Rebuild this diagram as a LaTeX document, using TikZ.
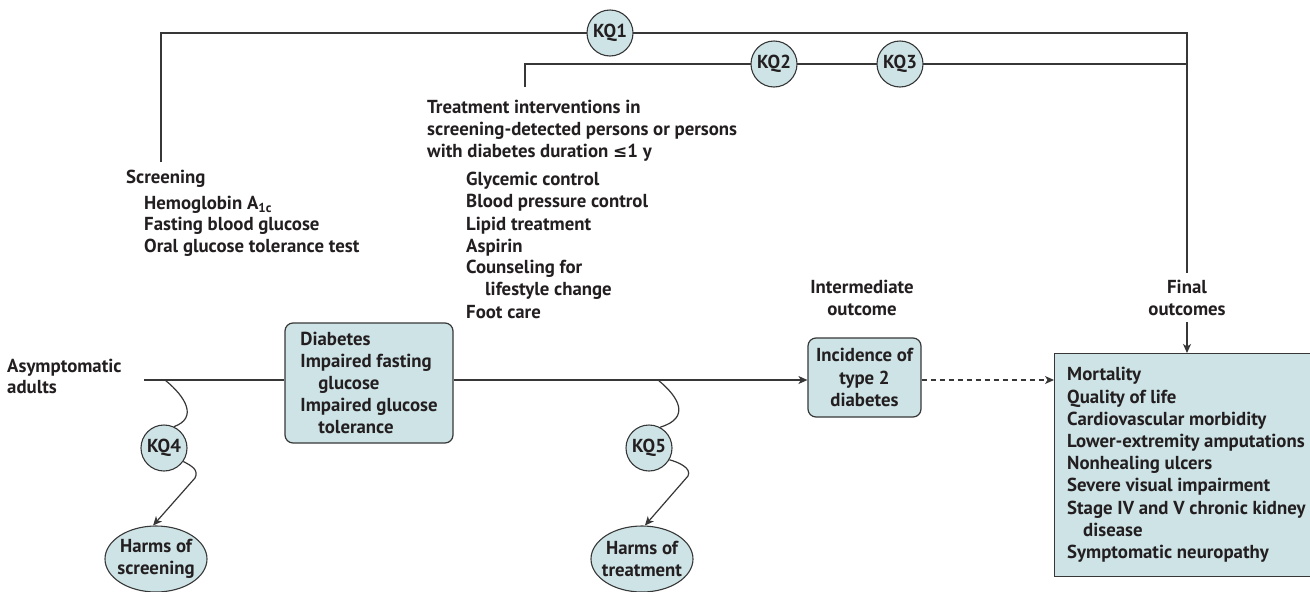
\documentclass[tikz,border=0pt]{standalone}
\usepackage{fontspec}
\setmainfont{PT Sans}
\newfontfamily\symf{DejaVu Sans}
\usetikzlibrary{arrows.meta,shapes.geometric}
\definecolor{boxfill}{RGB}{205,227,230}
\definecolor{ink}{RGB}{35,31,32}
\definecolor{linec}{RGB}{55,55,55}
\newcommand{\mainfs}{\fontsize{18.8}{22.2}\selectfont\bfseries}
\begin{document}
\begin{tikzpicture}[x=1pt,y=-1pt,
  every node/.style={font=\mainfs, text=ink},
  conn/.style={draw=linec, line width=1.2pt},
  arr/.style={conn, -{Stealth[length=9pt,width=8pt,inset=2.5pt]}},
  kq/.style={circle, draw=linec, line width=1.1pt, fill=boxfill, minimum size=46pt, inner sep=0pt},
  harm/.style={ellipse, draw=linec, line width=1.1pt, fill=boxfill, minimum width=102pt, minimum height=66pt, inner sep=0pt},
  rbox/.style={draw=linec, line width=1.2pt, fill=boxfill, rounded corners=8pt},
  lbl/.style={anchor=base west, inner sep=0pt},
  clbl/.style={anchor=base, inner sep=0pt}
]
\useasboundingbox (0,0) rectangle (1310,592);
\clip (0,0) rectangle (1310,592);
\fill[white] (0,0) rectangle (1310,592);

% top connectors
\coordinate (s1) at (161,162);
\coordinate (c1) at (161,33);
\coordinate (c2) at (1187,33);
\coordinate (f1) at (1187,273);
\draw[conn] (s1) -- (c1) -- (c2) -- (f1);
\coordinate (t1) at (525,87);
\coordinate (t2) at (525,64);
\coordinate (t3) at (1187,64);
\draw[conn] (t1) -- (t2) -- (t3);
\node[kq] (KQ1) at (610,33) {KQ1};
\node[kq] (KQ2) at (774,64) {KQ2};
\node[kq] (KQ3) at (900,64) {KQ3};

% screening text
\node[lbl] (scr0) at (126,183) {Screening};
\node[lbl] (scr1) at (144,209) {Hemoglobin A\raisebox{-0.35ex}{\fontsize{13}{13}\selectfont 1c}};
\node[lbl] (scr2) at (144,230) {Fasting blood glucose};
\node[lbl] (scr3) at (144,252) {Oral glucose tolerance test};

% treatment text
\node[lbl] (tr0) at (427,113) {Treatment interventions in};
\node[lbl] (tr1) at (427,135) {screening-detected persons or persons};
\node[lbl] (tr2) at (427,157) {with diabetes duration {\symf\fontsize{17}{17}\selectfont ≤}1 y};
\node[lbl] (tr3) at (466,185) {Glycemic control};
\node[lbl] (tr4) at (466,207) {Blood pressure control};
\node[lbl] (tr5) at (466,230) {Lipid treatment};
\node[lbl] (tr6) at (466,252) {Aspirin};
\node[lbl] (tr7) at (466,273) {Counseling for};
\node[lbl] (tr8) at (485,295) {lifestyle change};
\node[lbl] (tr9) at (466,318) {Foot care};

% outcome headers
\node[clbl] (im1) at (862,293) {Intermediate};
\node[clbl] (im2) at (862,315) {outcome};
\node[clbl] (fi1) at (1187,293) {Final};
\node[clbl] (fi2) at (1187,315) {outcomes};

% population
\node[lbl] (as1) at (7,372) {Asymptomatic};
\node[lbl] (as2) at (7,393) {adults};

% boxes
\node[rbox, minimum width=168pt, minimum height=120pt, align=left, inner xsep=12pt] (dx) at (369,383)
  {Diabetes\\Impaired fasting\\\hspace*{18pt}glucose\\Impaired glucose\\\hspace*{18pt}tolerance};
\node[rbox, minimum width=113pt, minimum height=79pt, align=center, inner sep=4pt] (inc) at (864.5,377.5)
  {Incidence of\\type 2\\diabetes};
\node[draw=linec, line width=1.2pt, fill=boxfill, anchor=north west, minimum width=290pt, minimum height=223pt] (out) at (1054,353) {};
\node[anchor=west, align=left, inner sep=0pt] (outtxt) at (1067,465)
  {Mortality\\Quality of life\\Cardiovascular morbidity\\Lower-extremity amputations\\Nonhealing ulcers\\Severe visual impairment\\Stage IV and V chronic kidney\\\hspace*{16pt}disease\\Symptomatic neuropathy};

% main flow
\coordinate (start) at (144,380);
\draw[conn] (start) -- (start -| dx.west);
\draw[arr] (start -| dx.east) -- (start -| inc.west);
\draw[arr, dash pattern=on 5pt off 4pt] (start -| inc.east) -- (start -| out.west);
\coordinate (fo) at (1187,322);
\draw[arr] (fo) -- (fo |- out.north);

% harms
\node[kq] (KQ4) at (164,448) {KQ4};
\node[harm] (H1) at (156,559) {};
\node[align=center, inner sep=0pt] (H1t) at (H1.center) {Harms of\\screening};
\coordinate (k4s) at (165,380);
\draw[conn] (k4s) .. controls (186,397) and (198,418) .. (KQ4.65);
\draw[arr] (KQ4.-35) .. controls (192,466) and (199,470) .. (195,478) -- (H1.95);

\node[kq] (KQ5) at (649,448) {KQ5};
\node[harm] (H2) at (642,559) {};
\node[align=center, inner sep=0pt] (H2t) at (H2.center) {Harms of\\treatment};
\coordinate (k5s) at (658,380);
\draw[conn] (k5s) .. controls (679,397) and (691,418) .. (KQ5.62);
\draw[arr] (KQ5.-30) .. controls (678,462) and (692,468) .. (688,476) -- (H2.85);
\end{tikzpicture}
\end{document}
